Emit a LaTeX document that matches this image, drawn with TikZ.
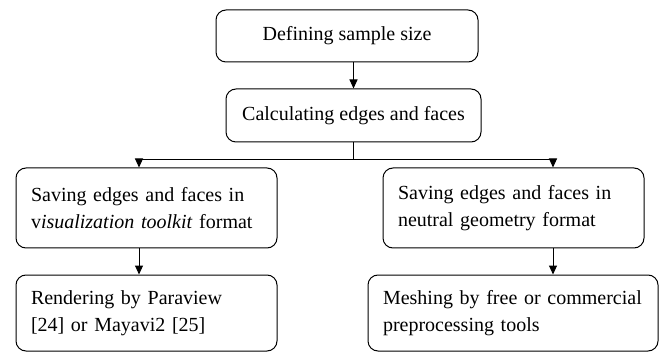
\documentclass[tikz,border=0pt]{standalone}
\usepackage{fontspec}
\setmainfont{Liberation Serif}
\usetikzlibrary{arrows.meta}

\tikzset{
  stepbox/.style={draw, line width=1pt, rounded corners=10pt, inner xsep=15pt,
    font=\fontsize{20}{27}\selectfont},
  topbox/.style={stepbox, align=center},
  sidebox/.style={stepbox, align=left}
}

\begin{document}
\begin{tikzpicture}[x=1pt, y=-1pt, >={Triangle[length=9pt,width=8pt]}, line width=1pt]
  \useasboundingbox (0,0) rectangle (660,352);
  % top of the chart
  \node [topbox, minimum width=262pt, minimum height=52pt] (define) at (347,36) {Defining sample size};
  \node [topbox, minimum width=255pt, minimum height=53pt] (calc) at (353.5,115.5) {Calculating edges and faces};
  % the two branches
  \node [sidebox, text width=231pt, minimum height=80pt] (savevtk) at (146.5,208) {Saving edges and faces in\\v\textit{isualization toolkit} format};
  \node [sidebox, text width=231pt, minimum height=76pt] (render) at (146.5,313) {Rendering by Paraview\\{[24]} or Mayavi2 [25]};
  \node [sidebox, text width=231pt, minimum height=80pt] (saveneutral) at (513.5,208) {Saving edges and faces in\\neutral geometry format};
  \node [sidebox, text width=260pt, minimum height=76pt] (mesh) at (513,313) {Meshing by free or commercial\\preprocessing tools};
  \coordinate (split) at (353.5,160);
  \coordinate (left) at (139,160);
  \coordinate (right) at (553,160);
  % connectors
  \draw [->] (define.south -| calc.south) -- (calc.north);
  \draw (calc.south) -- (split);
  \draw [->] (split) -- (left) -- (left |- savevtk.north);
  \draw [->] (split) -- (right) -- (right |- saveneutral.north);
  \draw [->] (left |- savevtk.south) -- (left |- render.north);
  \draw [->] (right |- saveneutral.south) -- (right |- mesh.north);
\end{tikzpicture}
\end{document}
